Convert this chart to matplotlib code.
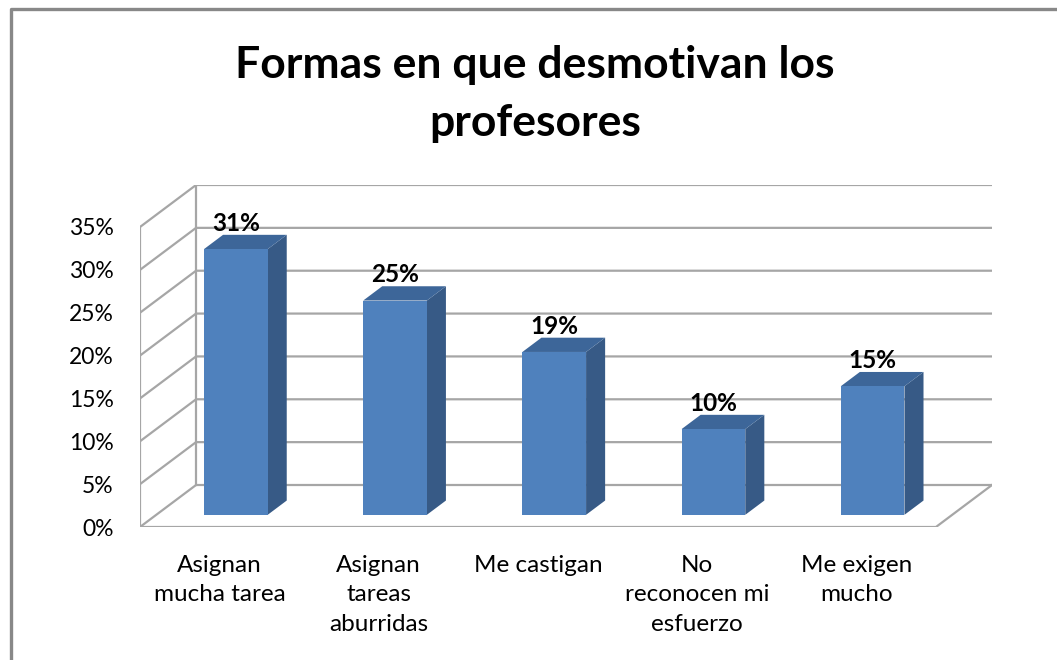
import matplotlib
matplotlib.use("Agg")
import matplotlib.pyplot as plt
from matplotlib.patches import Polygon
from matplotlib.lines import Line2D

title = "Formas en que desmotivan los\nprofesores"
categories = ["Asignan\nmucha tarea", "Asignan\ntareas\naburridas", "Me castigan",
              "No\nreconocen mi\nesfuerzo", "Me exigen\nmucho"]
values = [31, 25, 19, 10, 15]
yticks = [0, 5, 10, 15, 20, 25, 30, 35]
ytick_labels = [f"{v}%" for v in yticks]

FRONT = "#4F81BD"
SIDE = "#375A86"
TOP = "#3D6699"
GRID = "#A6A6A6"

# fake 3d look: depth offset of the back wall, in data units
DX, DY = 0.352, 4.9
D0, D1 = 0.29, 0.63   # where the bars sit in the depth
HALF = 0.2            # half bar width

plt.rcParams['font.family'] = ['Lato', 'DejaVu Sans']

fig = plt.figure(figsize=(10.57, 6.6), dpi=100)
ax = fig.add_axes([140/1057, 1 - 527/660, 852/1057, 342/660])
n = len(categories)
ymax = yticks[-1]
ax.set_xlim(0, n + DX)
ax.set_ylim(0, ymax + DY)
for s in ax.spines.values():
    s.set_visible(False)

# back + side wall gridlines
for v in yticks:
    ax.plot([0, DX, n + DX], [v, v + DY, v + DY], color=GRID, lw=1.6, zorder=1,
            solid_capstyle="butt")
ax.plot([0, 0], [0, ymax], color=GRID, lw=1.6, zorder=1)
ax.plot([DX, DX], [DY, ymax + DY], color=GRID, lw=1.6, zorder=1)
# floor
ax.plot([0, n, n + DX], [0, 0, DY], color=GRID, lw=1.6, zorder=1)

t = D1 - D0
for i, v in enumerate(values):
    cx = i + 0.5
    x0 = cx - HALF + D0 * DX
    x1 = cx + HALF + D0 * DX
    y0 = D0 * DY
    ddx, ddy = t * DX, t * DY
    ax.add_patch(Polygon([(x1, y0), (x1 + ddx, y0 + ddy), (x1 + ddx, y0 + v + ddy), (x1, y0 + v)],
                         closed=True, facecolor=SIDE, edgecolor="none", zorder=3))
    ax.add_patch(Polygon([(x0, y0 + v), (x1, y0 + v), (x1 + ddx, y0 + v + ddy), (x0 + ddx, y0 + v + ddy)],
                         closed=True, facecolor=TOP, edgecolor="none", zorder=3))
    ax.add_patch(Polygon([(x0, y0), (x1, y0), (x1, y0 + v), (x0, y0 + v)],
                         closed=True, facecolor=FRONT, edgecolor="none", zorder=4))
    ax.annotate(f"{v}%", (cx + D0 * DX, y0 + v + ddy), xytext=(0, 0), textcoords="offset points",
                ha="center", va="bottom", fontsize=17.5, fontweight="bold", zorder=5)

ax.set_yticks(yticks)
ax.set_yticklabels(ytick_labels, fontsize=16.5)
ax.set_xticks([i + 0.5 for i in range(n)])
ax.set_xticklabels(categories, fontsize=17.5, va="top", linespacing=1.5)
ax.tick_params(axis="y", length=0, pad=19)
ax.tick_params(axis="x", length=0, pad=20)

fig.text(0.506, 0.857, title, ha="center", va="center", fontsize=32, fontweight="bold",
         linespacing=1.55)

# outer chart border (left + top only are visible)
fig.add_artist(Line2D([11/1057, 11/1057, 1], [0, 1 - 8.5/660, 1 - 8.5/660],
                      transform=fig.transFigure, color="#888888", lw=2.4))

fig.savefig("out.png", dpi=100)
